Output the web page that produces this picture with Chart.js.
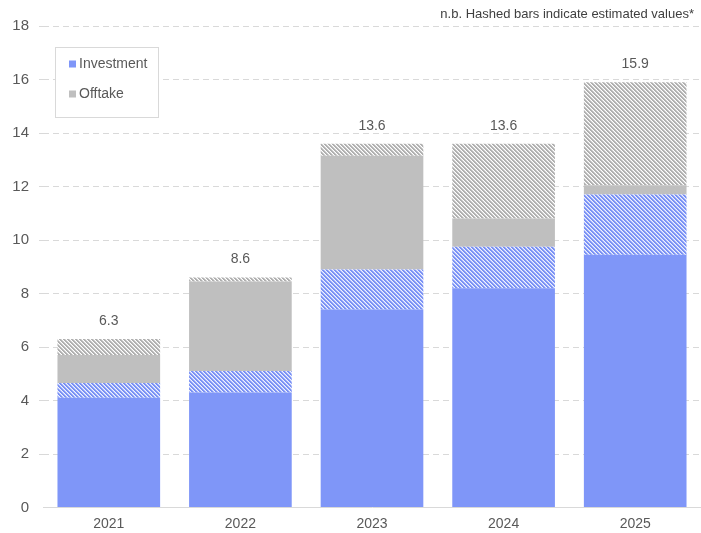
<!DOCTYPE html>
<html>
<head>
<meta charset="utf-8">
<script src="https://cdn.jsdelivr.net/npm/chart.js@4"></script>
<style>
  html, body { margin: 0; padding: 0; background: #ffffff; }
  #wrap { width: 701px; height: 533px; position: relative; }
</style>
</head>
<body>
<div id="wrap"><canvas id="chart"></canvas></div>
<script>
// Annual values (solid = reported, estimated = hashed)
const categories = ['2021', '2022', '2023', '2024', '2025'];
const investment = [4.1, 4.3, 7.4, 8.2, 9.45];
const investmentEst = [0.55, 0.8, 1.5, 1.55, 2.25];
const offtake = [1.05, 3.35, 4.25, 1.05, 0.35];
const offtakeEst = [0.6, 0.15, 0.45, 2.8, 3.85];
const yTicks = [0, 2, 4, 6, 8, 10, 12, 14, 16, 18];
const noteText = 'n.b. Hashed bars indicate estimated values*';

const BLUE = '#7f96f8';
const GREY = '#bfbfbf';
const FONT = '"Liberation Sans", Arial, sans-serif';
const TEXT = '#595959';

// Diagonal stripe fill for estimated segments
function hatch(color, soft, gap) {
  const size = 4;
  const c = document.createElement('canvas');
  c.width = size; c.height = size;
  const g = c.getContext('2d');
  g.fillStyle = gap;
  g.fillRect(0, 0, size, size);
  for (let y = 0; y < size; y++) {
    for (let x = 0; x < size; x++) {
      const k = ((x - y) % size + size) % size;
      if (k < 2) { g.fillStyle = color; g.fillRect(x, y, 1, 1); }
      else if (k === 2) { g.fillStyle = soft; g.fillRect(x, y, 1, 1); }
    }
  }
  return document.getElementById('chart').getContext('2d').createPattern(c, 'repeat');
}

const totals = categories.map((_, i) =>
  investment[i] + investmentEst[i] + offtake[i] + offtakeEst[i]);

const totalLabels = {
  id: 'totalLabels',
  afterDatasetsDraw(chart) {
    const ctx = chart.ctx;
    const y = chart.scales.y;
    const x = chart.scales.x;
    ctx.save();
    ctx.font = '14px ' + FONT;
    ctx.fillStyle = TEXT;
    ctx.textAlign = 'center';
    ctx.textBaseline = 'middle';
    totals.forEach((t, i) => {
      ctx.fillText(t.toFixed(1), x.getPixelForValue(i), y.getPixelForValue(t) - 18);
    });
    ctx.restore();
  }
};

const boxLegend = {
  id: 'boxLegend',
  afterDraw(chart) {
    const ctx = chart.ctx;
    ctx.save();
    ctx.fillStyle = '#ffffff';
    ctx.fillRect(55, 47, 104, 71);
    ctx.strokeStyle = '#d9d9d9';
    ctx.lineWidth = 1;
    ctx.strokeRect(55.5, 47.5, 103, 70);
    const items = [
      { label: 'Investment', color: BLUE, y: 64 },
      { label: 'Offtake', color: GREY, y: 94 }
    ];
    ctx.font = '14px ' + FONT;
    ctx.textBaseline = 'middle';
    ctx.textAlign = 'left';
    items.forEach(it => {
      ctx.fillStyle = it.color;
      ctx.fillRect(69, it.y - 3.5, 7, 7);
      ctx.fillStyle = TEXT;
      ctx.fillText(it.label, 79, it.y);
    });
    // note in the top-right corner
    ctx.font = '13px ' + FONT;
    ctx.fillStyle = '#404040';
    ctx.textAlign = 'right';
    ctx.fillText(noteText, 694, 14);
    ctx.restore();
  }
};

new Chart(document.getElementById('chart'), {
  type: 'bar',
  data: {
    labels: categories,
    datasets: [
      { label: 'Investment', data: investment, backgroundColor: BLUE },
      { label: 'Investment (estimated)', data: investmentEst,
        backgroundColor: hatch('#7a91f5', '#b9c6fa', '#eef1fe') },
      { label: 'Offtake', data: offtake, backgroundColor: GREY },
      { label: 'Offtake (estimated)', data: offtakeEst,
        backgroundColor: hatch('#b0b0b0', '#d8d8d8', '#ffffff') }
    ]
  },
  options: {
    responsive: true,
    maintainAspectRatio: false,
    animation: false,
    layout: { padding: { top: 26, right: -3, bottom: 0, left: 0 } },
    datasets: {
      bar: { barPercentage: 0.78, categoryPercentage: 1, borderWidth: 0 }
    },
    plugins: {
      legend: { display: false },
      tooltip: { enabled: false }
    },
    scales: {
      x: {
        stacked: true,
        grid: { display: false, drawTicks: false },
        border: { display: true, color: '#d9d9d9', width: 1 },
        ticks: { color: TEXT, font: { family: FONT, size: 14 }, padding: 8 },
        afterFit(s) { s.height = 25.5; }
      },
      y: {
        stacked: true,
        min: 0,
        max: 18,
        afterBuildTicks(s) { s.ticks = yTicks.map(v => ({ value: v })); },
        grid: {
          color: ctx => ctx.tick && ctx.tick.value === 0 ? 'rgba(0,0,0,0)' : '#d9d9d9',
          tickColor: ctx => ctx.tick && ctx.tick.value === 0 ? 'rgba(0,0,0,0)' : '#d9d9d9',
          lineWidth: 1,
          tickLength: 4,
          tickBorderDash: [6, 4]
        },
        border: { display: false, dash: [6, 4] },
        ticks: { color: TEXT, font: { family: FONT, size: 15 }, padding: 10 },
        afterFit(s) { s.width = 43; }
      }
    }
  },
  plugins: [totalLabels, boxLegend]
});
</script>
</body>
</html>
